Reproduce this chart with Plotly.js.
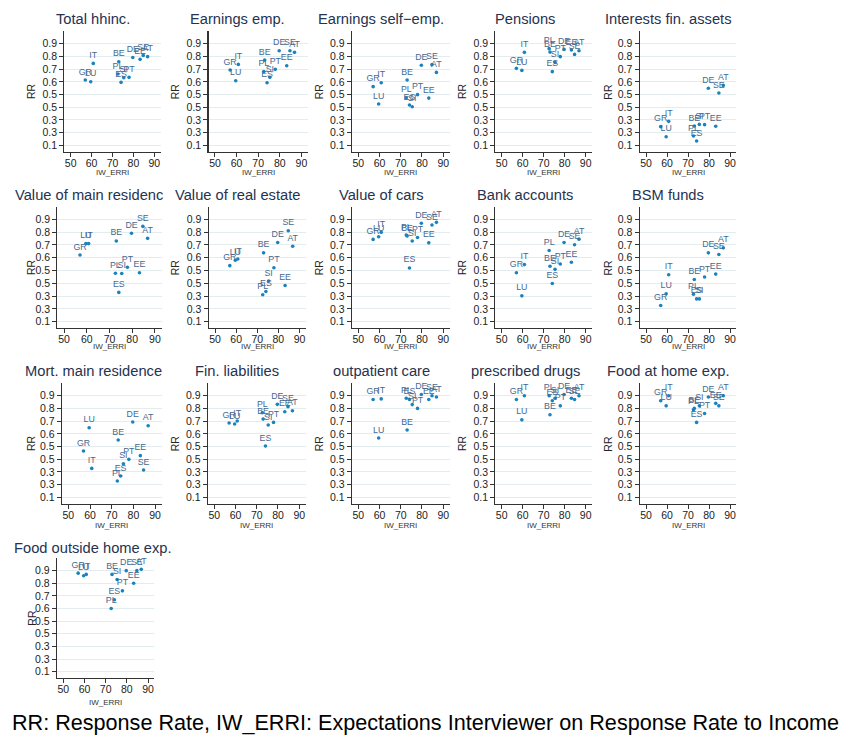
<!DOCTYPE html>
<html>
<head>
<meta charset="utf-8">
<script src="https://cdn.plot.ly/plotly-3.0.1.min.js"></script>
<style>
  html, body { margin: 0; padding: 0; background: #ffffff; }
  #chart { width: 846px; height: 737px; }
</style>
</head>
<body>
<div id="chart"></div>
<script>
// Countries and their interviewer expectation score (IW_ERRI)
const countries = ['GR', 'LU', 'IT', 'PL', 'BE', 'ES', 'SI', 'PT', 'DE', 'EE', 'SE', 'AT'];
const iwErri    = [57.0, 59.6, 60.8, 72.6, 73.0, 74.1, 75.4, 77.9, 79.7, 83.2, 84.7, 86.8];

// Response rate (RR) per item, same country order as above
const rrTotalHhinc   = [0.614, 0.601, 0.745, 0.661, 0.758, 0.596, 0.632, 0.635, 0.792, 0.777, 0.808, 0.798];
const rrEarningsEmp  = [0.693, 0.609, 0.737, 0.680, 0.771, 0.593, 0.635, 0.698, 0.845, 0.727, 0.845, 0.832];
const rrEarningsSelf = [0.562, 0.425, 0.593, 0.475, 0.614, 0.417, 0.404, 0.499, 0.730, 0.472, 0.735, 0.674];
const rrPensions     = [0.706, 0.690, 0.832, 0.861, 0.834, 0.680, 0.753, 0.798, 0.855, 0.850, 0.816, 0.845];
const rrInterests    = [0.247, 0.168, 0.289, 0.173, 0.252, 0.134, 0.265, 0.263, 0.549, 0.250, 0.512, 0.572];
const rrMainRes      = [0.621, 0.710, 0.710, 0.478, 0.731, 0.329, 0.476, 0.525, 0.791, 0.483, 0.845, 0.751];
const rrRealEstate   = [0.538, 0.580, 0.590, 0.310, 0.638, 0.336, 0.417, 0.522, 0.719, 0.383, 0.811, 0.690];
const rrCars         = [0.743, 0.764, 0.798, 0.777, 0.769, 0.520, 0.730, 0.758, 0.869, 0.716, 0.855, 0.876];
const rrBank         = [0.483, 0.302, 0.546, 0.656, 0.533, 0.399, 0.509, 0.551, 0.719, 0.564, 0.701, 0.745];
const rrBsm          = [0.226, 0.318, 0.467, 0.315, 0.430, 0.278, 0.278, 0.449, 0.638, 0.472, 0.625, 0.677];
const rrMortRes      = [0.465, 0.648, 0.328, 0.229, 0.551, 0.268, 0.365, 0.399, 0.693, 0.428, 0.315, 0.664];
const rrFinLiab      = [0.685, 0.677, 0.701, 0.766, 0.716, 0.504, 0.669, 0.690, 0.832, 0.774, 0.813, 0.782];
const rrOutpatient   = [0.870, 0.567, 0.875, 0.880, 0.630, 0.870, 0.830, 0.800, 0.910, 0.870, 0.900, 0.890];
const rrDrugs        = [0.870, 0.710, 0.900, 0.900, 0.750, 0.860, 0.880, 0.820, 0.910, 0.880, 0.870, 0.900];
const rrFoodHome     = [0.860, 0.820, 0.900, 0.790, 0.800, 0.690, 0.820, 0.760, 0.890, 0.840, 0.820, 0.900];
const rrFoodOut      = [0.880, 0.860, 0.870, 0.600, 0.870, 0.670, 0.830, 0.740, 0.900, 0.800, 0.900, 0.910];

const panelTitles = [
  'Total hhinc.', 'Earnings emp.', 'Earnings self\u2212emp.', 'Pensions', 'Interests fin. assets',
  'Value of main residenc', 'Value of real estate', 'Value of cars', 'Bank accounts', 'BSM funds',
  'Mort. main residence', 'Fin. liabilities', 'outpatient care', 'prescribed drugs', 'Food at home exp.',
  'Food outside home exp.'
];
const panelValues = [
  rrTotalHhinc, rrEarningsEmp, rrEarningsSelf, rrPensions, rrInterests,
  rrMainRes, rrRealEstate, rrCars, rrBank, rrBsm,
  rrMortRes, rrFinLiab, rrOutpatient, rrDrugs, rrFoodHome,
  rrFoodOut
];

// Y tick labels as printed by the source graphs
const yTickVals = [0.1, 0.2, 0.3, 0.4, 0.5, 0.6, 0.7, 0.8, 0.9];
const yTickText = ['0.1', '0.3', '0.3', '0.5', '0.5', '0.6', '0.7', '0.8', '0.9'];
const xTickVals = [50, 60, 70, 80, 90];

// ---- page geometry (pixels) ----
const W = 846, H = 737;
const rowBox = [[31, 151.7], [206.5, 328.1], [383, 503.7], [558, 678]];
const colBox = [
  [[64.4, 160.6], [208.5, 307.9], [351.9, 449.6], [495.4, 592], [639.7, 736.3]],
  [[57.3, 161.7], [208.7, 305.8], [351.9, 449.6], [495.4, 592], [639.7, 736.3]],
  [[61.8, 161.6], [207.9, 305.6], [351.9, 449.6], [495.4, 592], [639.7, 736.3]],
  [[57.0, 154.4]]
];
const titleY = [19, 195, 371, 548];
const titleX = [93, 237, 381, 525, 668];
const rrX = [31.7, 175, 319, 462.7, 608.3];
const xTitleY = [172.5, 346, 525, 702];

const FONT = 'Liberation Sans, Arial, Helvetica, sans-serif';
const px = v => v / W;
const py = v => 1 - v / H;

const data = [];
const layout = {
  width: W, height: H,
  margin: {l: 0, r: 0, t: 0, b: 0},
  paper_bgcolor: '#ffffff',
  plot_bgcolor: '#ffffff',
  showlegend: false,
  font: {family: FONT, color: '#222222'},
  annotations: []
};

panelValues.forEach((vals, i) => {
  const r = Math.floor(i / 5), c = i % 5;
  const [x0, x1] = colBox[r][c];
  const [y0, y1] = rowBox[r];
  const n = i + 1;
  const xa = 'xaxis' + (n === 1 ? '' : n);
  const ya = 'yaxis' + (n === 1 ? '' : n);

  data.push({
    type: 'scatter',
    mode: 'markers+text',
    x: iwErri,
    y: vals,
    text: countries,
    textposition: 'top center',
    textfont: {family: FONT, size: 8.8, color: '#45698f'},
    marker: {size: 3.6, color: '#1a82bd'},
    cliponaxis: false,
    hoverinfo: 'skip',
    xaxis: 'x' + (n === 1 ? '' : n),
    yaxis: 'y' + (n === 1 ? '' : n)
  });

  layout[xa] = {
    domain: [px(x0), px(x1)],
    anchor: 'y' + (n === 1 ? '' : n),
    range: [47, 93],
    tickvals: xTickVals,
    ticks: 'outside', ticklen: 4, tickwidth: 1, tickcolor: '#333333',
    ticklabelstandoff: -3,
    tickfont: {family: FONT, size: 10.5, color: '#222222'},
    showline: true, linecolor: '#333333', linewidth: 1.2,
    showgrid: false, zeroline: false
  };
  layout[ya] = {
    domain: [py(y1), py(y0)],
    anchor: 'x' + (n === 1 ? '' : n),
    range: [0.05, 1.0],
    tickvals: yTickVals,
    ticktext: yTickText,
    ticks: 'outside', ticklen: 4, tickwidth: 1, tickcolor: '#333333',
    tickfont: {family: FONT, size: 10.5, color: '#222222'},
    showline: true, linecolor: '#333333', linewidth: 1.2,
    showgrid: true, gridcolor: '#e3edf0', gridwidth: 1,
    zeroline: false
  };

  // panel title
  layout.annotations.push({
    xref: 'paper', yref: 'paper',
    x: px(i === 5 ? 89 : titleX[c]), y: py(titleY[r]),
    xanchor: 'center', yanchor: 'middle',
    text: panelTitles[i], showarrow: false,
    font: {family: FONT, size: 14.7, color: '#26324f'}
  });
  // y title
  layout.annotations.push({
    xref: 'paper', yref: 'paper',
    x: px(rrX[c]), y: py((y0 + y1) / 2),
    xanchor: 'center', yanchor: 'middle',
    text: 'RR', showarrow: false, textangle: -90,
    font: {family: FONT, size: 10.5, color: '#222222'}
  });
  // x title
  layout.annotations.push({
    xref: 'paper', yref: 'paper',
    x: px((x0 + x1) / 2), y: py(xTitleY[r]),
    xanchor: 'center', yanchor: 'middle',
    text: 'IW_ERRI', showarrow: false,
    font: {family: FONT, size: 8, color: '#333333'}
  });
});

// caption under the grid of panels
layout.annotations.push({
  xref: 'paper', yref: 'paper',
  x: px(426), y: py(722),
  xanchor: 'center', yanchor: 'middle',
  text: 'RR: Response Rate, IW_ERRI: Expectations Interviewer on Response Rate to Income',
  showarrow: false,
  font: {family: FONT, size: 21.6, color: '#000000'}
});

Plotly.newPlot('chart', data, layout, {staticPlot: true, displayModeBar: false});
</script>
</body>
</html>
